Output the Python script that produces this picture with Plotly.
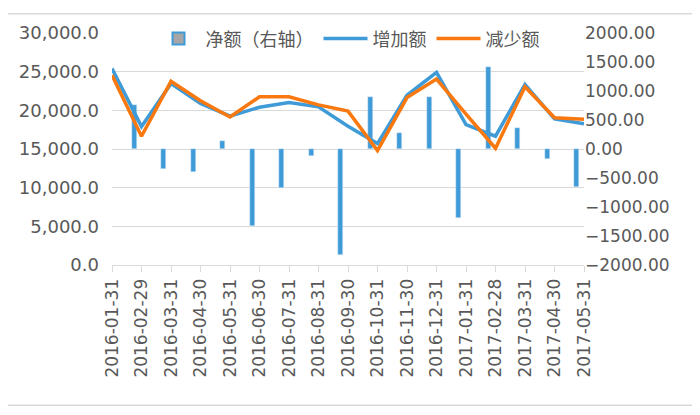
import plotly.graph_objects as go

# data
dates = [
    "2016-01-31", "2016-02-29", "2016-03-31", "2016-04-30", "2016-05-31",
    "2016-06-30", "2016-07-31", "2016-08-31", "2016-09-30", "2016-10-31",
    "2016-11-30", "2016-12-31", "2017-01-31", "2017-02-28", "2017-03-31",
    "2017-04-30", "2017-05-31",
]
increase = [25400, 17900, 23450, 20900, 19250, 20400, 21000, 20450, 17950, 15700,
            21950, 24900, 18150, 16650, 23350, 18900, 18250]
decrease = [24550, 16650, 23750, 21250, 19150, 21750, 21750, 20700, 19900, 14800,
            21650, 24050, 19500, 15100, 23050, 19050, 18850]
net = [1580, 760, -345, -390, 140, -1320, -680, -125, -1830, 905,
       280, 900, -1185, 1420, 360, -180, -650]

BLUE = "#3E9BD8"
ORANGE = "#F9780F"
GREY = "#595959"
CJK = "Noto Sans CJK SC"
NUM = "DejaVu Sans"

fig = go.Figure()

# net bars on the right axis (base subplot, so lines draw above them)
fig.add_trace(go.Bar(x=dates, y=net, yaxis="y", marker_color=BLUE,
                     width=0.17, cliponaxis=False, showlegend=False))
# legend entry for the bars: grey fill, blue border
fig.add_trace(go.Bar(x=[dates[0]], y=[None], yaxis="y", name="净额（右轴）",
                     marker=dict(color="#A6A6A6", line=dict(color=BLUE, width=2))))
fig.add_trace(go.Scatter(x=dates, y=increase, yaxis="y2", mode="lines", name="增加额",
                         line=dict(color=BLUE, width=3.5), cliponaxis=False))
fig.add_trace(go.Scatter(x=dates, y=decrease, yaxis="y2", mode="lines", name="减少额",
                         line=dict(color=ORANGE, width=3.5), cliponaxis=False))

# page body has an 8px margin, so the figure is drawn 8px smaller
fig.update_layout(
    width=692, height=407,
    margin=dict(l=104, r=116, t=17, b=150),
    paper_bgcolor="white", plot_bgcolor="white",
    font=dict(family=CJK, color=GREY, size=16),
    bargap=0,
    legend=dict(orientation="h", x=0.5, xanchor="center", y=0.975, yanchor="middle",
                bgcolor="rgba(0,0,0,0)", font=dict(family=CJK, size=18, color=GREY),
                itemwidth=44, tracegroupgap=0),
    xaxis=dict(type="category", range=[0, len(dates) - 1], tickangle=-90,
               ticks="outside", ticklen=6, tickcolor="#D9D9D9",
               showline=True, linecolor="#D9D9D9", showgrid=False,
               tickfont=dict(family=NUM, size=17, color=GREY)),
    yaxis=dict(side="right", range=[-2000, 2000], dtick=500, tickformat=".2f",
               showgrid=False, zeroline=False, ticks="",
               tickfont=dict(family=NUM, size=17, color=GREY)),
    yaxis2=dict(side="left", overlaying="y", range=[0, 30000], dtick=5000,
                tickformat=",.1f", showgrid=True, gridcolor="#D9D9D9",
                zeroline=False, ticks="", ticklabelstandoff=12,
                tickfont=dict(family=NUM, size=18, color=GREY)),
    shapes=[
        dict(type="rect", xref="paper", yref="paper",
             x0=-0.229, x1=1.237, y0=-0.604, y1=1.083,
             line=dict(color="#D9D9D9", width=1.5)),
        dict(type="line", xref="paper", yref="paper",
             x0=1.237, x1=1.237, y0=-0.535, y1=-0.6,
             line=dict(color="black", width=2)),
    ],
)

fig.write_html("out.html")
